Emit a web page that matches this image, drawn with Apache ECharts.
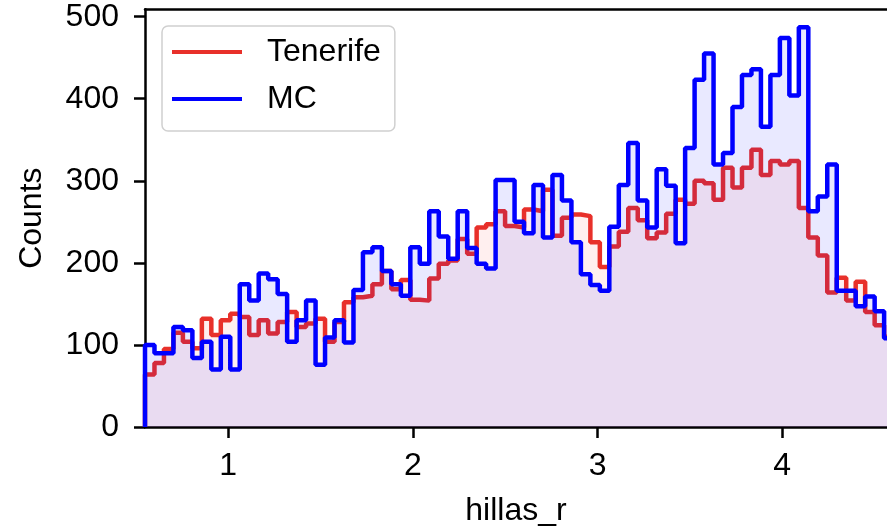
<!DOCTYPE html>
<html>
<head>
<meta charset="utf-8">
<script src="https://cdn.jsdelivr.net/npm/echarts@6/dist/echarts.min.js"></script>
<style>
  html, body { margin: 0; padding: 0; background: #ffffff; }
  #chart { width: 887px; height: 532px; }
</style>
</head>
<body>
<div id="chart"></div>
<script>
// ---- data ----
const binStart = 0.55;     // left edge of first bin (hillas_r)
const binWidth = 0.0513;   // bin width (hillas_r)
const seriesNames = ['Tenerife', 'MC'];
const tenerifeCounts = [64, 78, 95, 115, 104, 96, 132, 112, 130, 138,
  134, 112, 130, 114, 128, 140, 122, 126, 132, 104,
  128, 152, 158, 160, 174, 190, 168, 179, 155, 154,
  181, 199, 203, 229, 211, 243, 247, 263, 245, 243,
  265, 263, 289, 233, 255, 259, 257, 225, 195, 220,
  238, 267, 252, 230, 237, 260, 277, 272, 300, 297,
  277, 316, 292, 316, 338, 307, 324, 320, 324, 267,
  231, 209, 164, 182, 154, 177, 140, 124, 110];
const mcCounts = [100, 90, 90, 122, 118, 84, 104, 70, 110, 70,
  174, 154, 187, 180, 162, 104, 130, 154, 76, 109,
  130, 103, 167, 213, 219, 190, 174, 160, 219, 199,
  263, 232, 205, 263, 218, 199, 193, 301, 301, 250,
  236, 295, 231, 307, 276, 225, 186, 173, 166, 244,
  295, 346, 276, 243, 314, 294, 224, 340, 423, 455,
  320, 334, 390, 429, 436, 366, 429, 474, 404, 487,
  263, 281, 320, 166, 166, 147, 159, 141, 108];
const xTicks = [1, 2, 3, 4];
const yTicks = [0, 100, 200, 300, 400, 500];
const xMin = 0.55, xMax = 4.567;
const yMin = 0, yMax = 509;

// build step-histogram outline points from the bin counts
function stepPoints(counts) {
  const pts = [[binStart, 0]];
  counts.forEach((c, k) => pts.push([binStart + k * binWidth, c]));
  pts.push([binStart + counts.length * binWidth, counts[counts.length - 1]]);
  return pts;
}

const FONT = '"Liberation Sans", Arial, Helvetica, sans-serif';
const FS = 32;
const axisLineStyle = { color: '#000', width: 2.5 };

const chart = echarts.init(document.getElementById('chart'), null, { renderer: 'canvas' });
chart.setOption({
  animation: false,
  textStyle: { fontFamily: FONT },
  grid: { left: 145, right: 0, top: 9.3, bottom: 100, containLabel: false },
  legend: {
    orient: 'vertical',
    left: 162, top: 26,
    padding: [8, 14, 14, 10],
    itemGap: 11,
    itemWidth: 70, itemHeight: 4,
    icon: 'rect',
    backgroundColor: 'rgba(255,255,255,0.8)',
    borderColor: '#d0d0d0', borderWidth: 1.5, borderRadius: 6,
    textStyle: { fontFamily: FONT, fontSize: FS, color: '#000', lineHeight: 36, padding: [0, 0, 0, 20] },
    data: seriesNames
  },
  xAxis: [{
    type: 'value', min: xMin, max: xMax,
    name: 'hillas_r', nameLocation: 'middle', nameGap: 68,
    nameTextStyle: { fontFamily: FONT, fontSize: FS, color: '#000' },
    axisLine: { show: true, onZero: false, lineStyle: axisLineStyle },
    axisTick: { show: true, customValues: xTicks, length: 11, inside: false, lineStyle: axisLineStyle },
    axisLabel: { show: true, customValues: xTicks, fontFamily: FONT, fontSize: FS, color: '#000', margin: 23 },
    splitLine: { show: false }
  }, {
    type: 'value', min: xMin, max: xMax, position: 'top',
    axisLine: { show: true, onZero: false, lineStyle: axisLineStyle },
    axisTick: { show: false }, axisLabel: { show: false }, splitLine: { show: false }
  }],
  yAxis: {
    type: 'value', min: yMin, max: yMax,
    name: 'Counts', nameLocation: 'middle', nameGap: 97,
    nameTextStyle: { fontFamily: FONT, fontSize: FS, color: '#000' },
    axisLine: { show: true, onZero: false, lineStyle: axisLineStyle },
    axisTick: { show: true, customValues: yTicks, length: 11, inside: false, lineStyle: axisLineStyle },
    axisLabel: { show: true, customValues: yTicks, fontFamily: FONT, fontSize: FS, color: '#000', margin: 26 },
    splitLine: { show: false }
  },
  series: [{
    name: seriesNames[0], type: 'line', step: 'end',
    data: stepPoints(tenerifeCounts),
    showSymbol: false, symbol: 'none',
    itemStyle: { color: '#e8302a' },
    lineStyle: { color: '#e8302a', width: 4.5 },
    areaStyle: { color: 'rgba(255,0,0,0.09)', origin: 'start' },
    z: 2
  }, {
    name: seriesNames[1], type: 'line', step: 'end',
    data: stepPoints(mcCounts),
    showSymbol: false, symbol: 'none',
    itemStyle: { color: '#0000ff' },
    lineStyle: { color: '#0000ff', width: 4.5 },
    areaStyle: { color: 'rgba(0,0,255,0.12)', origin: 'start' },
    z: 3
  }]
});
</script>
</body>
</html>
